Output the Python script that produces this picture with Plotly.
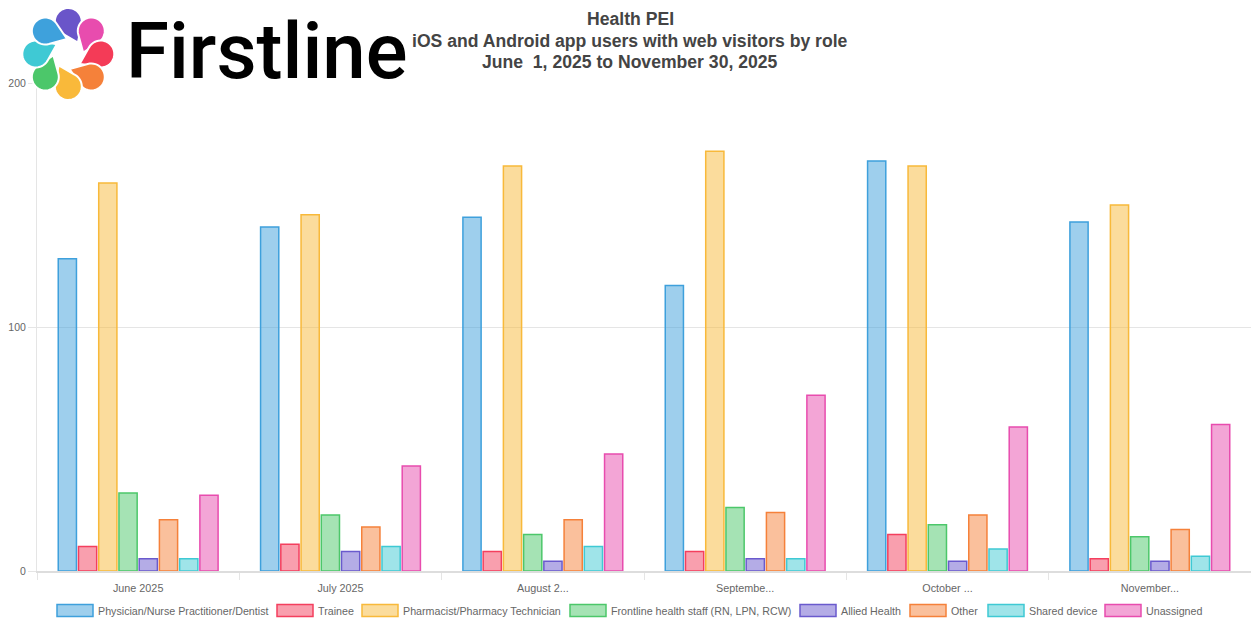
import math
import plotly.graph_objects as go

# ---------------- data ----------------
months = ["June 2025", "July 2025", "August 2...", "Septembe...", "October ...", "November..."]
roles = [
    "Physician/Nurse Practitioner/Dentist",
    "Trainee",
    "Pharmacist/Pharmacy Technician",
    "Frontline health staff (RN, LPN, RCW)",
    "Allied Health",
    "Other",
    "Shared device",
    "Unassigned",
]
physician = [128, 141, 145, 117, 168, 143]
trainee = [10, 11, 8, 8, 15, 5]
pharmacist = [159, 146, 166, 172, 166, 150]
frontline = [32, 23, 15, 26, 19, 14]
allied = [5, 8, 4, 5, 4, 4]
other = [21, 18, 21, 24, 23, 17]
shared = [5, 10, 10, 5, 9, 6]
unassigned = [31, 43, 48, 72, 59, 60]
series = [physician, trainee, pharmacist, frontline, allied, other, shared, unassigned]

y_ticks = [0, 100, 200]

# ---------------- styles ----------------
role_colors = [
    (62, 160, 220),
    (244, 63, 94),
    (248, 185, 58),
    (76, 199, 106),
    (106, 90, 205),
    (245, 129, 58),
    (63, 201, 212),
    (232, 76, 174),
]

W, H = 1251, 620
ML, MR, MT, MB = 37, 0, 83, 49
PW, PH = W - ML - MR, H - MT - MB


def px(x):
    return (x - ML) / PW


def py(y):
    return (H - MB - y) / PH


def rgba(c, a):
    return f"rgba({c[0]},{c[1]},{c[2]},{a})"


SMALL_FAMILY = "Liberation Sans, Arial, sans-serif"
XTICK_FONT = dict(family=SMALL_FAMILY, size=10.8, color="#666666")
YTICK_FONT = dict(family=SMALL_FAMILY, size=10.5, color="#666666")
LEGEND_FONT = dict(family=SMALL_FAMILY, size=10.7, color="#666666")

fig = go.Figure()
for name, vals, col in zip(roles, series, role_colors):
    fig.add_trace(go.Bar(
        x=months, y=vals, name=name,
        marker=dict(color=rgba(col, 0.5), line=dict(color=rgba(col, 1), width=1.5)),
        showlegend=False,
    ))

shapes = []
annotations = []

# ---------------- custom legend (wide boxes like the original) ----------------
legend_item_left = [57, 277, 362, 570, 800, 910, 988, 1105]
for name, col, bx in zip(roles, role_colors, legend_item_left):
    shapes.append(dict(
        type="rect", xref="paper", yref="paper",
        x0=px(bx), x1=px(bx + 36), y0=py(616.5), y1=py(604.5),
        fillcolor=rgba(col, 0.5), line=dict(color=rgba(col, 1), width=1.5),
    ))
    annotations.append(dict(
        text=name, xref="paper", yref="paper", x=px(bx + 39), y=py(610.5),
        xanchor="left", yanchor="middle", showarrow=False, font=LEGEND_FONT,
    ))

# ---------------- logo (pinwheel petals) ----------------
logo_colors = ["#6a55c9", "#e84cae", "#f43b57", "#f5813a", "#f9b93a", "#4cc76a", "#3fc9d4", "#3ea1dc"]
cx, cy = 68.3, 54.0
for k, colr in enumerate(logo_colors):
    th = math.radians(-90 + 45 * k)
    tp = math.radians(-90 + 45 * k + 40)
    ox, oy = cx + 32.5 * math.cos(th), cy + 32.5 * math.sin(th)
    tx, ty = cx + 15 * math.cos(tp), cy + 15 * math.sin(tp)
    r = 13.5
    d = math.hypot(ox - tx, oy - ty)
    axis = math.atan2(oy - ty, ox - tx)
    al = math.asin(min(0.99, r / d))
    pts = [(tx, ty)]
    n = 30
    a0 = axis + math.pi / 2 + al
    a1 = axis - math.pi / 2 - al
    for i in range(n + 1):
        a = a0 + (a1 - a0) * i / n
        pts.append((ox + r * math.cos(a), oy + r * math.sin(a)))
    path = "M " + " L ".join(f"{px(x):.5f},{py(y):.5f}" for x, y in pts) + " Z"
    shapes.append(dict(type="path", xref="paper", yref="paper", path=path,
                       fillcolor=colr, line=dict(color="white", width=2), layer="above"))

annotations.append(dict(
    text="Firstline", xref="paper", yref="paper", x=px(124), y=py(52.0),
    xanchor="left", yanchor="middle", showarrow=False,
    font=dict(family="Roboto, Inter, sans-serif", size=78, color="#000000", weight=500),
))

# ---------------- title lines ----------------
title_lines = [
    "Health PEI",
    "iOS and Android app users with web visitors by role",
    "June&nbsp; 1, 2025 to November 30, 2025",
]
for line, yc in zip(title_lines, [19, 41, 62]):
    annotations.append(dict(
        text=f"<b>{line}</b>", xref="paper", yref="paper", x=px(630), y=py(yc),
        xanchor="center", yanchor="middle", showarrow=False,
        font=dict(family="Liberation Sans, Arial, sans-serif", size=17.6, color="#444444"),
    ))

fig.update_layout(
    width=W, height=H,
    margin=dict(l=ML, r=MR, t=MT, b=MB, pad=0),
    paper_bgcolor="white", plot_bgcolor="white",
    barmode="group", bargap=0.2, bargroupgap=0.1,
    shapes=shapes, annotations=annotations,
    showlegend=False,
)
fig.update_xaxes(
    type="category", showgrid=False, tickson="boundaries",
    ticks="outside", ticklen=7, tickcolor="#e5e5e5", tickwidth=1,
    ticklabelstandoff=6,
    showline=True, linecolor="#dddddd", linewidth=2,
    tickfont=XTICK_FONT, fixedrange=True,
)
fig.update_yaxes(
    range=[0, 200], tickvals=y_ticks, ticktext=[str(v) for v in y_ticks],
    showgrid=True, gridcolor="#e5e5e5", gridwidth=1, zeroline=False,
    ticks="outside", ticklen=8, tickcolor="#e5e5e5",
    showline=True, linecolor="#e5e5e5", linewidth=1,
    tickfont=YTICK_FONT, fixedrange=True,
)

fig.write_html(
    "out.html",
    config={"displayModeBar": False, "responsive": False},
    post_script="document.body.style.margin='0px';document.body.style.padding='0px';",
)
